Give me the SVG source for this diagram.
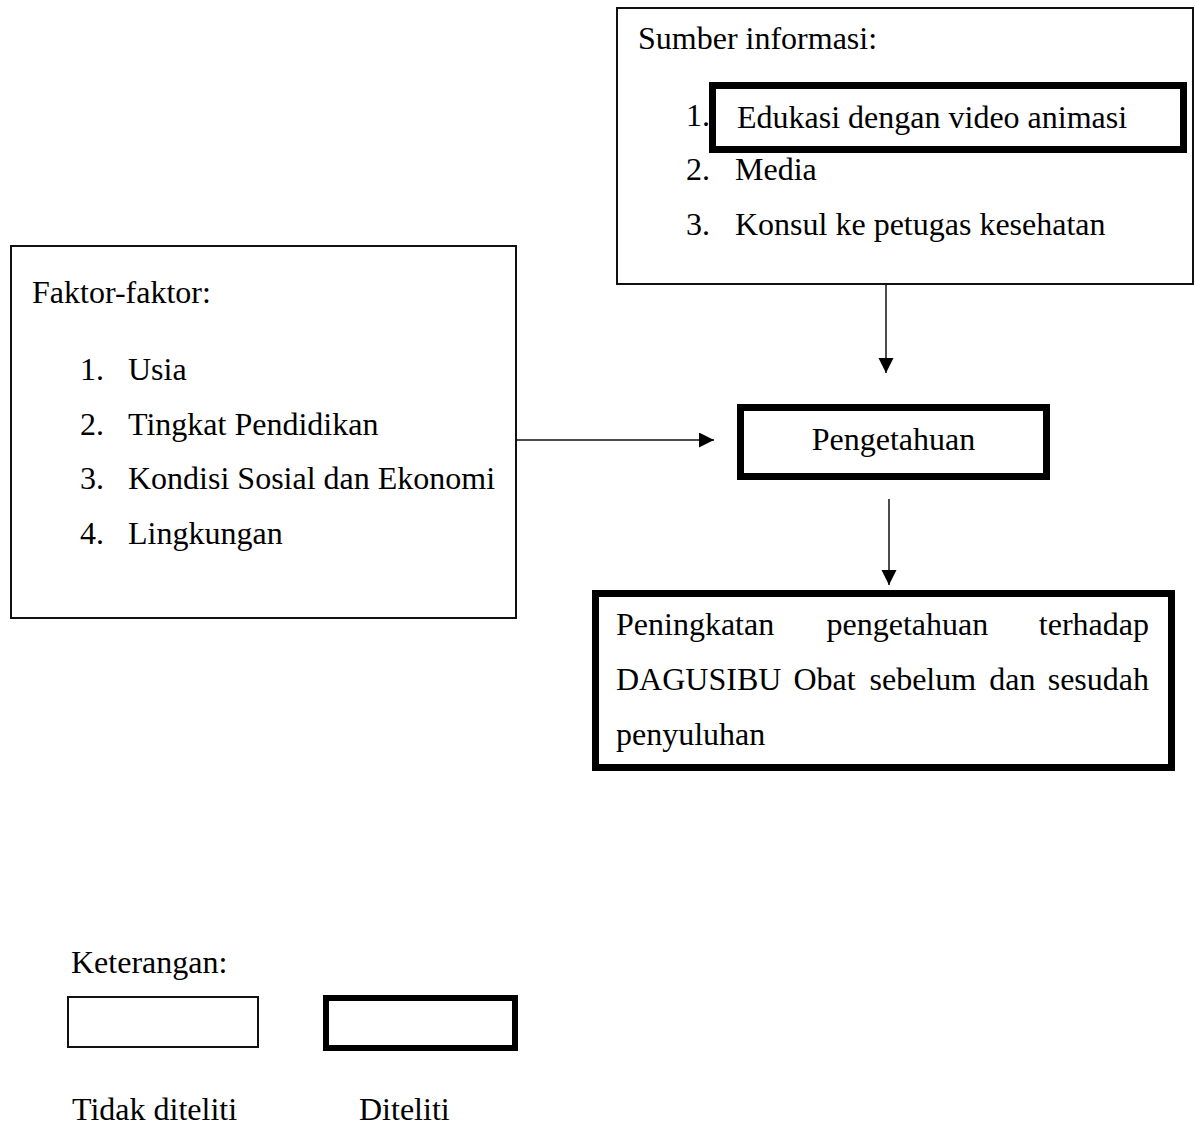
<svg xmlns="http://www.w3.org/2000/svg" width="1195" height="1126" viewBox="0 0 1195 1126">
<style>
text{font-family:"Liberation Serif","Times New Roman",serif;font-size:32px;fill:#000}
.thin{fill:#fff;stroke:#111;stroke-width:2}
.thick{fill:#fff;stroke:#000;stroke-width:7}
.conn{stroke:#111;stroke-width:1.5;fill:none}
</style>
<defs>
<marker id="arr" markerUnits="userSpaceOnUse" markerWidth="16" markerHeight="16" refX="15" refY="7.5" orient="auto">
<path d="M0,0 L15,7.5 L0,15 Z" fill="#000"/>
</marker>
</defs>
<rect width="1195" height="1126" fill="#fff"/>
<g id="sumber">
<rect class="thin" x="617" y="8" width="576" height="276"/>
<text x="638" y="49">Sumber informasi:</text>
<text x="686" y="126">1.</text>
<text x="686" y="180">2.</text>
<text x="735" y="180">Media</text>
<text x="686" y="235">3.</text>
<text x="735" y="235">Konsul ke petugas kesehatan</text>
</g>
<g id="edukasi">
<rect class="thick" x="712.5" y="85.5" width="471" height="64"/>
<text x="737" y="128">Edukasi dengan video animasi</text>
</g>
<g id="faktor">
<rect class="thin" x="11" y="246" width="505" height="372"/>
<text x="32" y="303">Faktor-faktor:</text>
<text x="80" y="380">1.</text><text x="128" y="380">Usia</text>
<text x="80" y="435">2.</text><text x="128" y="435">Tingkat Pendidikan</text>
<text x="80" y="489">3.</text><text x="128" y="489">Kondisi Sosial dan Ekonomi</text>
<text x="80" y="544">4.</text><text x="128" y="544">Lingkungan</text>
</g>
<g id="pengetahuan">
<rect class="thick" x="740.5" y="407.5" width="306" height="69"/>
<text x="893.5" y="450" text-anchor="middle">Pengetahuan</text>
</g>
<g id="peningkatan">
<rect class="thick" x="595.5" y="593.5" width="576" height="174"/>
<text y="635"><tspan x="616">Peningkatan</tspan><tspan x="826.5">pengetahuan</tspan></text>
<text x="1149" y="635" text-anchor="end">terhadap</text>
<text y="690"><tspan x="616">DAGUSIBU</tspan><tspan x="793.5">Obat</tspan><tspan x="869.5">sebelum</tspan><tspan x="989.3">dan</tspan></text>
<text x="1149" y="690" text-anchor="end">sesudah</text>
<text x="616" y="745">penyuluhan</text>
</g>
<g id="legend">
<text x="71" y="973">Keterangan:</text>
<rect class="thin" x="68" y="997" width="190" height="50"/>
<rect x="326" y="998" width="189" height="50" fill="#fff" stroke="#000" stroke-width="6"/>
<text x="72" y="1120">Tidak diteliti</text>
<text x="359" y="1120">Diteliti</text>
</g>
<g id="connectors">
<line class="conn" x1="886" y1="285" x2="886" y2="373" marker-end="url(#arr)"/>
<line class="conn" x1="516" y1="440" x2="714" y2="440" marker-end="url(#arr)"/>
<line class="conn" x1="889" y1="499" x2="889" y2="585" marker-end="url(#arr)"/>
</g>
</svg>
